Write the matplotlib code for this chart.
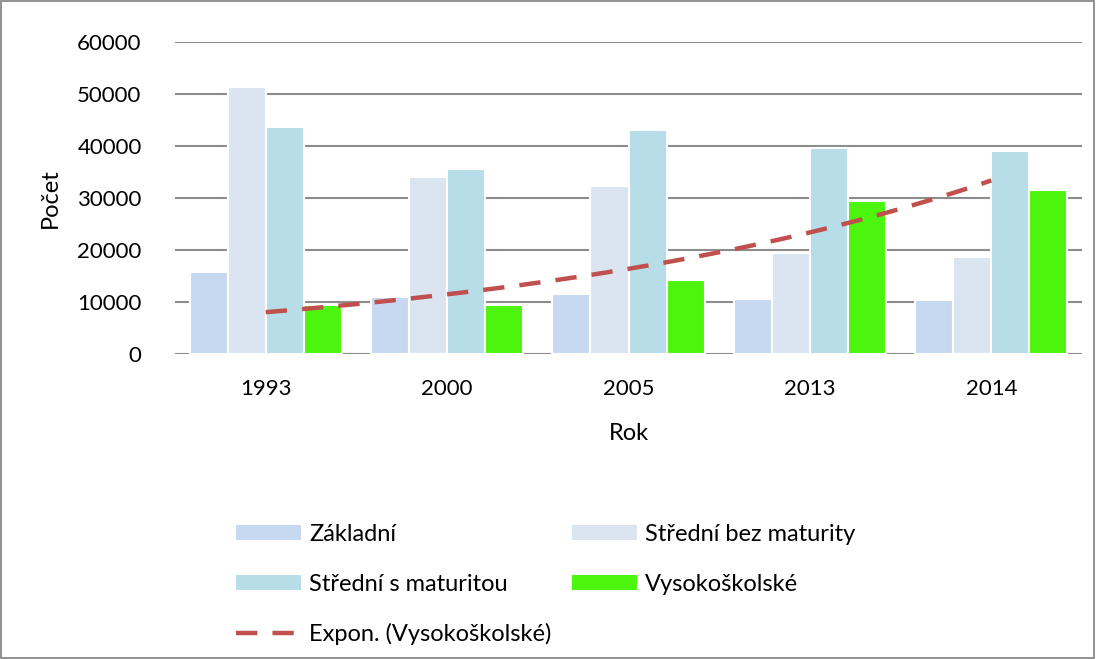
import numpy as np
import matplotlib.pyplot as plt
from matplotlib.patches import Rectangle, Patch
from matplotlib.lines import Line2D

plt.rcParams['font.family'] = ['Lato', 'DejaVu Sans']

roky = ['1993', '2000', '2005', '2013', '2014']
zakladni = [15800, 10900, 11500, 10600, 10450]
stredni_bez = [51400, 34000, 32400, 19500, 18700]
stredni_s = [43700, 35500, 43100, 39700, 39100]
vysokoskolske = [9450, 9400, 14250, 29500, 31600]

series = [
    ('Základní', zakladni, '#c6d9f0'),
    ('Střední bez maturity', stredni_bez, '#dbe5f1'),
    ('Střední s maturitou', stredni_s, '#b7dde8'),
    ('Vysokoškolské', vysokoskolske, '#4cf40e'),
]

fig = plt.figure(figsize=(10.96, 6.59), dpi=100)
ax = fig.add_axes([175 / 1096, 1 - 354 / 659, 907 / 1096, 312 / 659])

x = np.arange(len(roky))
w = 0.21
handles = []
for i, (name, vals, color) in enumerate(series):
    ax.bar(x + (i - 1.5) * w, vals, w, color=color, edgecolor='white', linewidth=1.5, zorder=3)
    handles.append(Patch(facecolor=color, edgecolor='none', label=name))

# exponential trendline of Vysokoskolske (fit over category index 1..5)
xi = np.arange(1, len(roky) + 1)
b, a = np.polyfit(xi, np.log(vysokoskolske), 1)
xs = np.linspace(1, len(roky), 100)
ax.plot(xs - 1, np.exp(a + b * xs), color='#c0504d', lw=3.2, dashes=(4.8, 3.4), zorder=4)
trend = Line2D([], [], color='#c0504d', lw=3.2, dashes=(4.8, 3.4), label='Expon. (Vysokoškolské)')

ax.set_ylim(0, 60000)
ax.set_xlim(-0.5, len(roky) - 0.5)
ax.set_yticks(range(0, 60001, 10000))
ax.set_xticks(x)
ax.set_xticklabels(roky)
ax.yaxis.grid(True, color='#8c8c8c', lw=1.5, zorder=0)
ax.set_axisbelow(True)
for s in ax.spines.values():
    s.set_visible(False)
ax.tick_params(length=0, labelsize=16, colors='black')
ax.tick_params(axis='y', pad=24)
ax.tick_params(axis='x', pad=18)
ax.set_ylabel('Počet', fontsize=17, labelpad=12)
ax.set_xlabel('Rok', fontsize=17, labelpad=17)

fig.legend(handles=[handles[0], handles[2], trend, handles[1], handles[3]], ncol=2,
           loc='upper left', bbox_to_anchor=(215 / 1096, 1 - 503 / 659), frameon=False,
           fontsize=17, handlelength=2.75, handleheight=0.6, handletextpad=0.35,
           labelspacing=1.2, columnspacing=0.85)

fig.add_artist(Rectangle((0.001, 0.001), 0.997, 0.997, transform=fig.transFigure,
                         fill=False, edgecolor='#7f7f7f', lw=1.2))

fig.savefig('out.png', dpi=100)
